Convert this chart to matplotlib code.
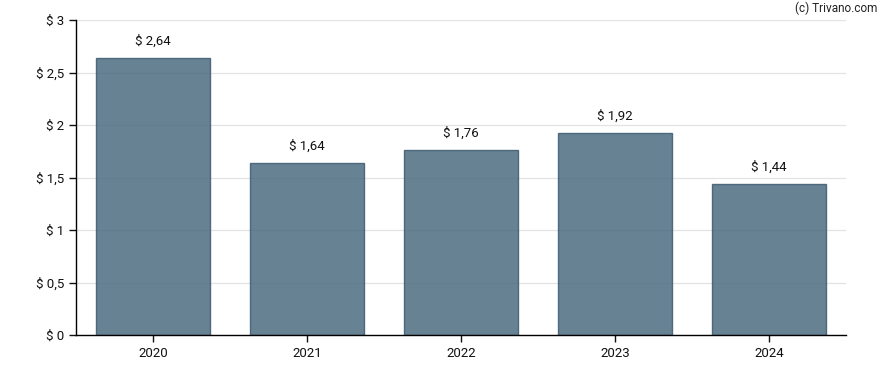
import matplotlib

matplotlib.use("Agg")
import matplotlib.pyplot as plt
from matplotlib.ticker import FuncFormatter, MultipleLocator

years = ["2020", "2021", "2022", "2023", "2024"]
dividends = [2.64, 1.64, 1.76, 1.92, 1.44]


def euro_style(value: float) -> str:
    text = f"{value:.2f}".rstrip("0").rstrip(".")
    return "$ " + text.replace(".", ",")


plt.rcParams["font.family"] = ["Roboto", "DejaVu Sans"]

fig = plt.figure(figsize=(8.88, 3.70), dpi=100)
axis = fig.add_axes([76 / 888, 1 - 335 / 370, (846 - 76) / 888, (335 - 20) / 370])

positions = range(len(years))
# semi-transparent bars so the grid shows faintly through, as in the original
axis.bar(
    positions,
    dividends,
    width=0.74,
    color="#4b6c80",
    alpha=0.85,
    edgecolor="#3d5a70",
    linewidth=1.0,
    zorder=2,
)
for pos, value in zip(positions, dividends):
    axis.annotate(
        f"$ {value:.2f}".replace(".", ","),
        xy=(pos, value),
        xytext=(0, 7.5),
        textcoords="offset points",
        ha="center",
        va="bottom",
        fontsize=9.5,
        color="#111111",
    )

axis.set_xlim(-0.5, len(years) - 0.5)
axis.set_ylim(0, 3)
axis.yaxis.set_major_locator(MultipleLocator(0.5))
axis.yaxis.set_major_formatter(FuncFormatter(lambda v, _: euro_style(v)))
axis.set_xticks(list(positions))
axis.set_xticklabels(years)
axis.grid(axis="y", color="#e3e3e3", linewidth=0.9, zorder=1)
axis.set_axisbelow(True)
for side in ("top", "right"):
    axis.spines[side].set_visible(False)
for side in ("left", "bottom"):
    axis.spines[side].set_color("#000000")
    axis.spines[side].set_linewidth(1.0)
    axis.spines[side].set_zorder(3)
axis.tick_params(axis="both", labelsize=9.5, colors="#111111", length=5, width=1.0)

fig.text(877 / 888, 1 - 8 / 370, "(c) Trivano.com", ha="right", va="center", fontsize=8.5, color="#222222")

fig.savefig("out.png", dpi=100)
